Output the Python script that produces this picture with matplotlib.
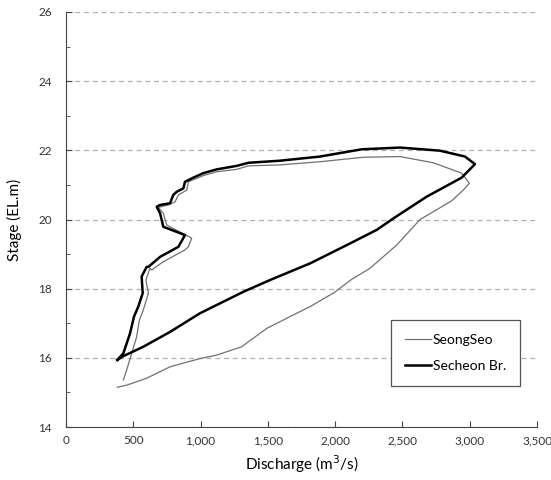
#!/usr/bin/env python3

from matplotlib import pyplot as plt
from matplotlib.ticker import FuncFormatter, MultipleLocator

plt.rcParams['font.family'] = ['Lato', 'DejaVu Sans']

# SeongSeo (thin grey line): discharge (m3/s) and stage (EL.m)
seongseo_q = [381, 451, 599, 773, 996, 1120, 1305, 1491, 1689, 1813, 1990, 2123,
              2259, 2457, 2631, 2866, 2952, 2997, 2940, 2730, 2482, 2209, 1887,
              1590, 1355, 1268, 1120, 1020, 909, 897, 835, 810, 760, 686, 723, 748,
              934, 909, 884, 723, 637, 624, 594, 612, 574, 545, 525, 488, 451, 426]
seongseo_h = [15.15, 15.21, 15.41, 15.74, 15.98, 16.08, 16.32, 16.85, 17.24, 17.48,
              17.88, 18.27, 18.59, 19.26, 20.00, 20.54, 20.85, 21.05, 21.34, 21.64,
              21.82, 21.80, 21.67, 21.58, 21.55, 21.45, 21.38, 21.27, 21.09, 20.85,
              20.71, 20.51, 20.42, 20.35, 20.18, 19.84, 19.46, 19.21, 19.12, 18.78,
              18.54, 18.59, 18.25, 17.87, 17.38, 17.09, 16.61, 16.13, 15.65, 15.36]

# Secheon Br. (thick black line)
secheon_q = [381, 426, 574, 773, 996, 1318, 1516, 1813, 2086, 2309, 2432, 2680,
             2940, 3039, 2965, 2779, 2482, 2197, 1887, 1590, 1355, 1268, 1120, 1020,
             946, 884, 872, 822, 797, 773, 699, 674, 699, 723, 884, 835, 699, 612,
             599, 562, 570, 537, 505, 476, 426, 381]
secheon_h = [15.94, 16.05, 16.32, 16.75, 17.29, 17.91, 18.25, 18.73, 19.26, 19.70,
             20.03, 20.66, 21.21, 21.60, 21.82, 21.99, 22.08, 22.03, 21.82, 21.70,
             21.64, 21.55, 21.45, 21.34, 21.21, 21.09, 20.90, 20.80, 20.71, 20.47,
             20.42, 20.37, 20.18, 19.79, 19.55, 19.21, 18.92, 18.63, 18.63, 18.35,
             17.87, 17.48, 17.19, 16.71, 16.13, 15.94]


def plot_loops():
    fig = plt.figure(figsize=(5.51, 4.80), dpi=100)
    ax = fig.add_axes([0.1198, 0.1104, 0.8548, 0.8646])

    ax.plot(seongseo_q, seongseo_h, color='#707070', lw=0.9, label='SeongSeo')
    ax.plot(secheon_q, secheon_h, color='black', lw=1.8, label='Secheon Br.')

    ax.set_xlim(0, 3500)
    ax.set_ylim(14, 26)
    ax.xaxis.set_major_locator(MultipleLocator(500))
    ax.yaxis.set_major_locator(MultipleLocator(2))
    ax.yaxis.set_minor_locator(MultipleLocator(1))
    ax.xaxis.set_major_formatter(FuncFormatter(lambda v, p: '{:,.0f}'.format(v)))
    ax.tick_params(axis='both', which='both', direction='in', labelsize=8.5,
                   color='#444444', labelcolor='#333333')
    ax.tick_params(which='major', length=4)
    ax.tick_params(which='minor', length=3)
    ax.tick_params(axis='x', pad=6)
    ax.tick_params(axis='y', pad=10)

    ax.grid(True, axis='y', which='major', linestyle=(0, (4, 3)),
            color='#b0b0b0', lw=0.9)
    ax.set_axisbelow(True)
    for side in ['top', 'right']:
        ax.spines[side].set_visible(False)
    for side in ['left', 'bottom']:
        ax.spines[side].set_color('#444444')

    ax.set_xlabel('Discharge (m$^3$/s)', fontsize=11, labelpad=5)
    ax.set_ylabel('Stage (EL.m)', fontsize=11, labelpad=12)

    leg = ax.legend(loc='lower right', bbox_to_anchor=(0.979, 0.082),
                    fontsize=10, handlelength=1.9, handletextpad=0.15,
                    labelspacing=1.05, borderpad=1.0, fancybox=False,
                    framealpha=1)
    leg.get_frame().set_edgecolor('#555555')
    leg.get_frame().set_linewidth(0.9)

    fig.savefig('out.png', dpi=100)


if __name__ == '__main__':
    plot_loops()
